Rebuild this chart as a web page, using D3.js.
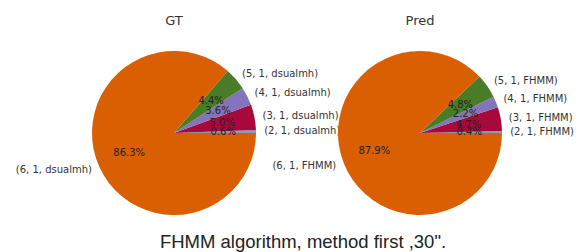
<!DOCTYPE html>
<html>
<head>
<meta charset="utf-8">
<script src="https://cdn.jsdelivr.net/npm/d3@7"></script>
<style>
  body { margin: 0; background: #fff; }
  svg { display: block; }
</style>
</head>
<body>
<svg id="chart" width="581" height="252"></svg>
<script>
// kategorier, i den rækkefølge matplotlib tegner dem (mod uret fra kl. 3)
const gtLabels = ["(2, 1, dsualmh)", "(3, 1, dsualmh)", "(4, 1, dsualmh)", "(5, 1, dsualmh)", "(6, 1, dsualmh)"];
const gtValues = [0.6, 5.0, 3.6, 4.4, 86.3];

const predLabels = ["(2, 1, FHMM)", "(3, 1, FHMM)", "(4, 1, FHMM)", "(5, 1, FHMM)", "(6, 1, FHMM)"];
const predValues = [0.4, 4.7, 2.2, 4.8, 87.9];

const titles = ["GT", "Pred"];
const caption = "FHMM algorithm, method first ,30\".";

const colors = ["#7f9fbf", "#a8083a", "#8573bb", "#497c27", "#d95f02"];

const svg = d3.select("#chart");
const radius = 82;

const color = d3.scaleOrdinal()
    .domain(d3.range(5))
    .range(colors);

// matplotlib starter ved 0 grader og går mod uret
const pie = d3.pie()
    .sort(null)
    .value(d => d)
    .startAngle(Math.PI / 2)
    .endAngle(Math.PI / 2 - 2 * Math.PI);

const arc = d3.arc().innerRadius(0).outerRadius(radius);

function drawPie(cx, cy, values, labels, title) {
    const g = svg.append("g").attr("transform", `translate(${cx},${cy})`);
    const arcs = pie(values);

    g.selectAll("path")
        .data(arcs)
        .enter()
        .append("path")
        .attr("d", arc)
        .attr("fill", (d, i) => color(i));

    // labels udenfor ved 1.1 * r
    g.selectAll(".lbl")
        .data(arcs)
        .enter()
        .append("text")
        .attr("class", "lbl")
        .attr("x", d => 1.1 * radius * Math.sin((d.startAngle + d.endAngle) / 2))
        .attr("y", d => -1.1 * radius * Math.cos((d.startAngle + d.endAngle) / 2))
        .attr("text-anchor", d => Math.sin((d.startAngle + d.endAngle) / 2) > 0 ? "start" : "end")
        .attr("dominant-baseline", "middle")
        .attr("font-family", "DejaVu Sans")
        .attr("font-size", 10)
        .attr("fill", "#333")
        .text((d, i) => labels[i]);

    // procenter ved 0.6 * r
    g.selectAll(".pct")
        .data(arcs)
        .enter()
        .append("text")
        .attr("class", "pct")
        .attr("x", d => 0.6 * radius * Math.sin((d.startAngle + d.endAngle) / 2))
        .attr("y", d => -0.6 * radius * Math.cos((d.startAngle + d.endAngle) / 2))
        .attr("text-anchor", "middle")
        .attr("dominant-baseline", "middle")
        .attr("font-family", "DejaVu Sans")
        .attr("font-size", 10)
        .attr("fill", "#222")
        .text(d => d.data.toFixed(1) + "%");

    svg.append("text")
        .attr("x", cx)
        .attr("y", 25)
        .attr("text-anchor", "middle")
        .attr("font-family", "DejaVu Sans")
        .attr("font-size", 13)
        .attr("fill", "#333")
        .text(title);
}

drawPie(174, 133, gtValues, gtLabels, titles[0]);
drawPie(420, 133, predValues, predLabels, titles[1]);

svg.append("text")
    .attr("x", 303)
    .attr("y", 248)
    .attr("text-anchor", "middle")
    .attr("font-family", "Liberation Sans, Arial")
    .attr("font-size", 18.5)
    .attr("fill", "#222")
    .text(caption);
</script>
</body>
</html>
